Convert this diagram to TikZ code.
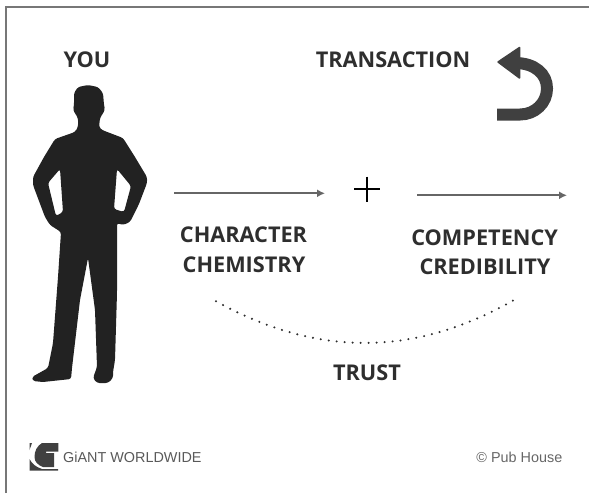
\documentclass[tikz,border=0pt]{standalone}
\usepackage{fontspec}
\setmainfont{Open Sans}
\newfontfamily\logofont{Liberation Sans}
\usetikzlibrary{arrows.meta}
\definecolor{inkdark}{HTML}{222222}
\definecolor{textdark}{HTML}{2E2E2E}
\definecolor{arrowgrey}{HTML}{666666}
\definecolor{framegrey}{HTML}{777777}
\definecolor{undogrey}{HTML}{404040}
\tikzset{headlabel/.style={font=\bfseries\fontsize{21.7}{21.7}\selectfont,text=textdark,inner sep=0pt},
footlabel/.style={font=\logofont\fontsize{14.4}{14.4}\selectfont,text=#1,inner sep=0pt},
linkarrow/.style={draw=arrowgrey,line width=2pt,-{Latex[length=8pt,width=8pt]}}}
\begin{document}
\begin{tikzpicture}[x=1pt,y=-1pt]
\useasboundingbox (0,0) rectangle (589,493);
\draw[framegrey,line width=1.6pt] (5.8,493) -- (5.8,7) -- (589,7);
%man
\fill[inkdark,even odd rule,rounded corners=2.5pt] (117,262) -- (117,293) -- (115,360) -- (113,372) -- (113,378) -- (108,383) -- (97,383)
 -- (93,378) -- (97,367) -- (95,310) -- (88,258) -- (80,300) -- (72,368) -- (71,379)
 -- (43,382) -- (33,381) -- (32,377) -- (48,368) -- (53,343) -- (58,277) -- (61,232)
 -- (50,225) -- (45,217) -- (33,185) -- (33,177)
 -- (44,157) -- (55,139) -- (75,132) -- (78,127) -- (78,118)
 -- (73,110) -- (74,105) -- (74,93) -- (78,87) -- (88,85) -- (98,87) -- (103,93)
 -- (104,105) -- (105,110) -- (100,118) -- (99,127) -- (102,130) -- (123,138)
 -- (135,157) -- (147,177) -- (147,183)
 -- (139,204) -- (130,222) -- (123,225) -- (117,223) -- cycle
 (60,169) -- (48,183) -- (56,216) -- (63,212) -- cycle
 (117,169) -- (131,186) -- (124,212) -- (114,209) -- cycle;
\node[headlabel] (you) at (87,60) {YOU};
\node[headlabel] (transaction) at (393,60) {TRANSACTION};
%undo sign
\draw[undogrey,line width=12pt] (497,114.5) -- (520,114.5) .. controls (535,114.5) and (547,103) .. (547,88.5)
 .. controls (547,74) and (535,63) .. (515,63);
\fill[undogrey,draw=undogrey,line width=1.5pt,line join=round] (498,62) -- (519.5,47.5) -- (519.5,78) -- cycle;
\coordinate (chstart) at (174,193.3);
\coordinate (chend) at (325,193.3);
\coordinate (costart) at (417,195.3);
\coordinate (coend) at (567,195.3);
\draw[linkarrow] (chstart) -- (chend);
\draw[linkarrow] (costart) -- (coend);
\coordinate (plus) at (367,189);
\draw[black,line width=1.3pt] (354,189) -- (380,189) (367,176.5) -- (367,202);
\node[headlabel] (character) at (243.5,234.5) {CHARACTER};
\node[headlabel] (chemistry) at (244,264.5) {CHEMISTRY};
\node[headlabel] (competency) at (484.6,237.5) {COMPETENCY};
\node[headlabel] (credibility) at (485,267) {CREDIBILITY};
\node[headlabel] (trust) at (367,372.5) {TRUST};
\coordinate (arcleft) at (216,301.3);
\coordinate (arcright) at (514,300);
\draw[textdark,line width=2.3pt,line cap=round,dash pattern=on 0pt off 8pt] (arcleft) .. controls (317,357) and (414,357) .. (arcright);
%logo
\fill[undogrey] (58.3,443) -- (42,443) .. controls (37,446) and (34.5,451) .. (34.5,457) .. controls (34.5,462) and (38,465) .. (43,467) -- (54,467) -- (54,453.2) -- (46,453.2) -- (46,451.5) -- (58.3,451.5) -- cycle;
\fill[undogrey] (29.5,459) .. controls (32,464) and (36,467) .. (42,469) -- (58,469) -- (58,470.5) -- (29.5,470.5) -- cycle;
\fill[undogrey] (29.5,443) -- (32,443) -- (29.5,450) -- cycle;
\node[footlabel=black!65,anchor=west] (giant) at (63,457.7) {GiANT WORLDWIDE};
\node[footlabel=black!60,anchor=east] (pub) at (562.5,457.5) {© Pub House};
\end{tikzpicture}
\end{document}
